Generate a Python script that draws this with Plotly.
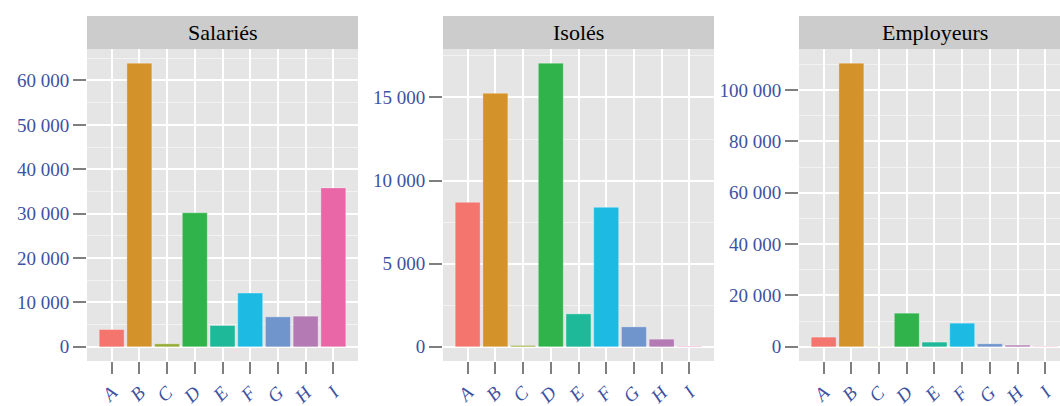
import plotly.graph_objects as go

categories = ["A", "B", "C", "D", "E", "F", "G", "H", "I"]
panel_titles = ["Salariés", "Isolés", "Employeurs"]
salaries = [3900, 63900, 675, 30200, 4800, 12100, 6750, 6900, 35800]
isoles = [8690, 15250, 80, 17060, 1980, 8390, 1200, 460, 30]
employeurs = [3770, 110500, 100, 13100, 1830, 9210, 1170, 660, 150]
series = [salaries, isoles, employeurs]
y_dticks = [10000, 5000, 20000]
colors = ["#F3756D", "#D4922A", "#98AC3A", "#31B34B", "#1DB999",
          "#1DBBE4", "#7094CC", "#B47AB4", "#E967A7"]

W, H = 1060, 406
FONT = "Liberation Serif"
BLUE = "#3D52A3"


def fx(x):
    return x / W


def fy(y):
    return 1 - y / H


# pixel geometry: (left, right, x-range)
panels = [(87, 358, [-0.89, 8.89]), (443, 714, [-0.89, 8.89]), (799, 1060, [-0.89, 8.53])]
plot_top, plot_bottom = 49, 361
strip_top = 16

fig = go.Figure()
layout = dict(
    width=W, height=H,
    margin=dict(l=0, r=0, t=0, b=0),
    paper_bgcolor="white",
    plot_bgcolor="#E5E5E5",
    showlegend=False,
    separators=", ",
    font=dict(family=FONT, color=BLUE),
    shapes=[], annotations=[],
    bargap=0.1,
)

for i, (vals, (l, r, xr), dt, title) in enumerate(zip(series, panels, y_dticks, panel_titles)):
    sfx = "" if i == 0 else str(i + 1)
    fig.add_trace(go.Bar(
        x=categories, y=vals, width=0.9,
        marker=dict(color=colors, line=dict(width=1, color="rgba(255,255,255,0.3)")),
        xaxis="x" + sfx, yaxis="y" + sfx,
    ))
    vmax = max(vals)
    layout["xaxis" + sfx] = dict(
        domain=[fx(l), fx(r)], anchor="y" + sfx, type="category",
        range=xr, showgrid=True, gridcolor="white", gridwidth=1.6,
        ticks="outside", ticklen=12, tickwidth=1.6, tickcolor="#7F7F7F",
        tickangle=-45,
        tickfont=dict(family=FONT, size=19, color=BLUE, style="italic"),
        showline=False, zeroline=False, automargin=False, fixedrange=True,
    )
    layout["yaxis" + sfx] = dict(
        domain=[fy(plot_bottom), fy(plot_top)], anchor="x" + sfx,
        range=[-0.05 * vmax, 1.05 * vmax], dtick=dt, tick0=0, tickformat=",d",
        showgrid=True, gridcolor="white", gridwidth=1.6,
        minor=dict(dtick=dt / 2, tick0=0, showgrid=True, gridcolor="#F2F2F2", gridwidth=0.8, ticks=""),
        ticks="outside", ticklen=13, tickwidth=1.6, tickcolor="#7F7F7F",
        tickfont=dict(family=FONT, size=19, color=BLUE),
        showline=False, zeroline=False, automargin=False, fixedrange=True,
    )
    full_right = l + 271
    layout["shapes"].append(dict(
        type="rect", xref="paper", yref="paper",
        x0=fx(l), x1=fx(min(full_right, W)), y0=fy(plot_top), y1=fy(strip_top),
        fillcolor="#CCCCCC", line=dict(width=0), layer="below",
    ))
    layout["annotations"].append(dict(
        text=title, xref="paper", yref="paper",
        x=fx((l + full_right) / 2), y=fy((strip_top + plot_top) / 2),
        xanchor="center", yanchor="middle", showarrow=False,
        font=dict(family=FONT, size=22, color="black"),
    ))

fig.update_layout(**layout)
fig.write_html(
    "out.html",
    config={"displayModeBar": False},
    post_script="document.body.style.margin='0';document.body.style.overflow='hidden';",
)
